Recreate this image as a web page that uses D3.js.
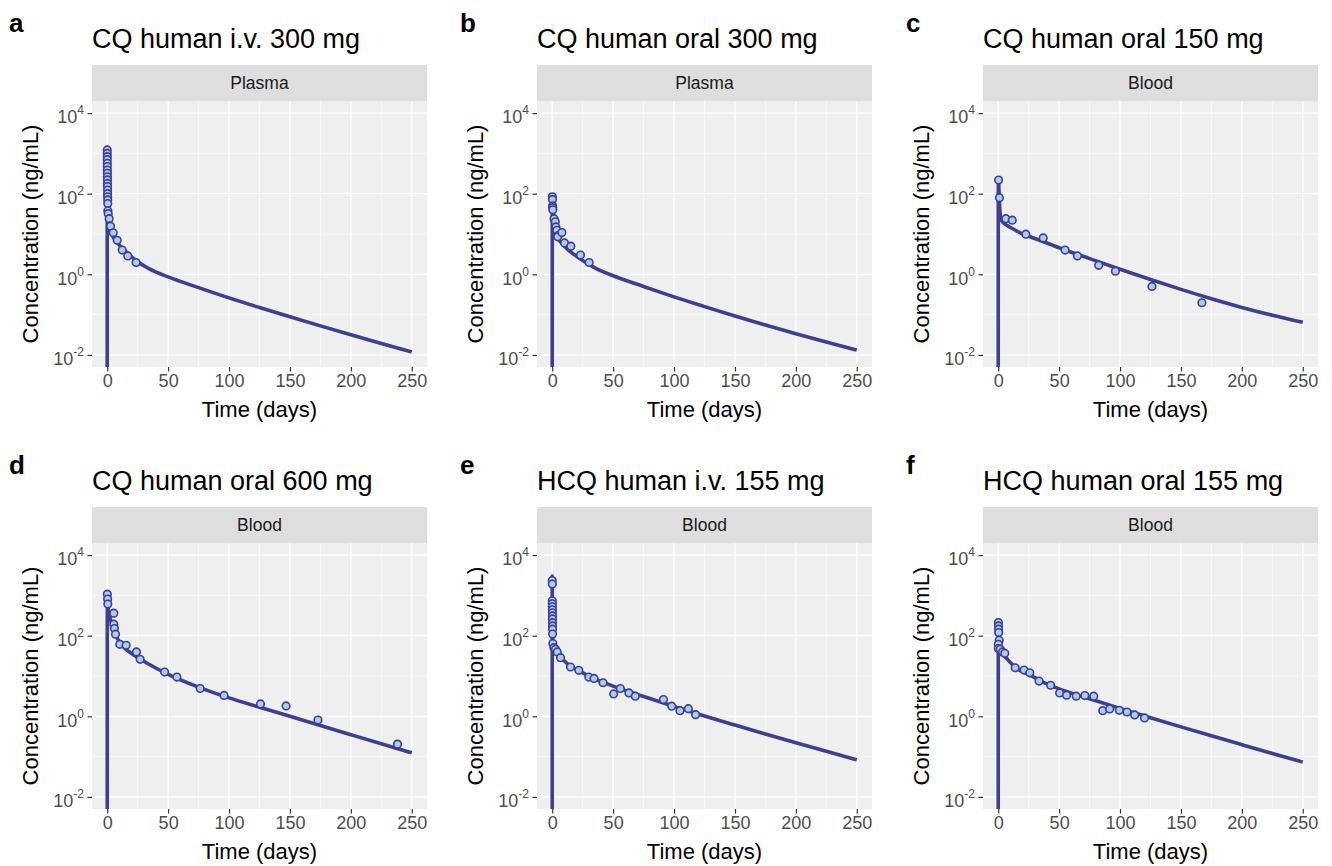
<!DOCTYPE html>
<html>
<head>
<meta charset="utf-8">
<script src="https://cdn.jsdelivr.net/npm/d3@7"></script>
<style>
  body { margin: 0; background: #fff; }
  text { font-family: "Liberation Sans", Arial, Helvetica, sans-serif; }
</style>
</head>
<body>
<svg id="chart" width="1332" height="866"></svg>
<script>
// ---- data (time in days, concentration in ng/mL) ----
var xTicks = [0, 50, 100, 150, 200, 250];
var xMinor = [25, 75, 125, 175, 225];
var yTicks = [1e-2, 1, 1e2, 1e4];
var yTickExp = ["-2", "0", "2", "4"];
var yMinor = [1e-1, 1e1, 1e3];

// a: CQ i.v. 300 mg, plasma
var lineTimeA = [0, 0.01, 0.05, 0.1, 0.2, 0.4, 0.7, 1, 2, 3, 5, 7, 10, 15, 20, 25, 35, 50, 75, 100, 125, 150, 175, 200, 225, 250];
var lineConcA = [0, 1100, 700, 400, 150, 60, 30, 16, 12, 10.5, 8.3, 6.8, 5.3, 3.7, 2.7, 2.05, 1.35, 0.86, 0.468, 0.26, 0.15, 0.088, 0.0525, 0.0316, 0.0193, 0.0119];
var obsTimeA = [0.02, 0.03, 0.04, 0.05, 0.06, 0.08, 0.1, 0.12, 0.14, 0.17, 0.2, 0.23, 0.27, 0.3, 0.35, 0.4, 0.45, 0.5, 0.8, 1.6, 2.7, 4.9, 8.2, 12.3, 16.9, 23.7];
var obsConcA = [1216, 1000, 828, 700, 567, 470, 386, 320, 263, 220, 180, 150, 123, 100, 84, 70, 57, 37.6, 32, 24, 15.6, 10.7, 7.0, 4.0, 2.86, 1.95];

// b: CQ oral 300 mg, plasma
var lineTimeB = [0, 0.05, 0.15, 0.3, 0.5, 1, 1.5, 2, 3, 5, 7, 10, 15, 20, 25, 35, 50, 75, 100, 125, 150, 175, 200, 225, 250];
var lineConcB = [0, 30, 70, 80, 55, 25, 15, 11, 9.5, 7.5, 6.3, 5.0, 3.6, 2.8, 2.2, 1.45, 0.92, 0.5, 0.275, 0.158, 0.092, 0.055, 0.0335, 0.0209, 0.0132];
var obsTimeB = [0.1, 0.2, 0.3, 0.4, 0.5, 1.5, 2.5, 3.0, 3.8, 5.2, 4.5, 7.9, 10.1, 15.3, 23.2, 30.3];
var obsConcB = [84, 72, 50, 45, 40, 24, 20, 15, 12.4, 9.3, 8.5, 10.9, 6.0, 5.0, 3.0, 1.96];

// c: CQ oral 150 mg, blood
var lineTimeC = [0, 0.05, 0.15, 0.3, 0.5, 1, 1.5, 2, 3, 5, 7, 10, 15, 20, 25, 35, 50, 75, 100, 125, 150, 175, 200, 225, 250];
var lineConcC = [0, 100, 200, 225, 150, 60, 35, 25, 21, 18, 16.5, 14.5, 12, 10, 8.8, 6.8, 4.57, 2.45, 1.33, 0.741, 0.422, 0.248, 0.151, 0.0966, 0.0646];
var obsTimeC = [0.3, 1, 6.3, 11.5, 22.7, 36.9, 54.9, 65, 82.5, 96.2, 126.2, 167.2];
var obsConcC = [218, 79, 24, 22, 9.9, 8.0, 4.0, 2.86, 1.67, 1.19, 0.5, 0.197];

// d: CQ oral 600 mg, blood
var lineTimeD = [0, 0.05, 0.15, 0.3, 1, 2, 3, 5, 7, 10, 15, 20, 25, 35, 50, 75, 100, 125, 150, 175, 200, 225, 250];
var lineConcD = [0, 250, 500, 600, 400, 300, 230, 150, 105, 70, 47, 36, 29, 19, 11, 5.3, 2.86, 1.68, 1.0, 0.59, 0.35, 0.208, 0.124];
var obsTimeD = [0.1, 0.3, 0.5, 5.4, 5.4, 5.9, 6.8, 10.3, 15.5, 24, 27, 47.1, 57.2, 76.3, 95.9, 125.8, 146.8, 173, 238.3];
var obsConcD = [1075, 812, 610, 363, 193, 151, 109, 61, 58, 39.5, 26, 12.5, 9.4, 4.9, 3.3, 2.03, 1.81, 0.81, 0.204];

// e: HCQ i.v. 155 mg, blood
var lineTimeE = [0, 0.01, 0.05, 0.1, 0.2, 0.4, 0.7, 1, 2, 3, 5, 7, 10, 15, 20, 25, 35, 50, 75, 100, 125, 150, 175, 200, 225, 250];
var lineConcE = [0, 3000, 1500, 700, 250, 100, 65, 55, 45, 40, 34, 29, 23.5, 17.5, 14.5, 12, 8.5, 5.62, 3.09, 1.76, 1.02, 0.605, 0.363, 0.22, 0.135, 0.0834];
var obsTimeE = [0.02, 0.05, 0.07, 0.09, 0.11, 0.13, 0.15, 0.17, 0.19, 0.21, 0.24, 0.27, 0.3, 0.5, 1.4, 2.7, 4.1, 6.8, 15, 21.8, 30, 34.3, 41.7, 50.4, 55.9, 63, 68.2, 91.3, 98.1, 104.9, 111.7, 117.7];
var obsConcE = [2330, 1910, 735, 620, 520, 440, 370, 310, 260, 210, 175, 145, 110, 64, 50.5, 46, 39.5, 28.5, 16.7, 13.8, 9.4, 8.7, 6.8, 3.6, 4.9, 3.8, 3.15, 2.6, 1.78, 1.38, 1.55, 1.1];

// f: HCQ oral 155 mg, blood
var lineTimeF = [0, 0.05, 0.15, 0.3, 0.6, 1, 2, 3, 5, 7, 10, 15, 20, 25, 35, 50, 75, 100, 125, 150, 175, 200, 225, 250];
var lineConcF = [0, 60, 110, 120, 80, 55, 38, 35, 31, 27, 21.5, 15.5, 12.8, 11, 7.5, 4.79, 2.72, 1.57, 0.923, 0.547, 0.328, 0.198, 0.12, 0.073];
var obsTimeF = [0.1, 0.2, 0.3, 0.4, 0.8, 0.1, 0.05, 1.6, 3.5, 5.4, 13.9, 21.2, 25.9, 33.5, 43, 50.4, 56.1, 64, 71.1, 78.4, 85.8, 91.5, 99.4, 105.7, 112, 120.1];
var obsConcF = [212, 175, 145, 120, 77, 61, 48, 46, 39.5, 36.6, 16, 14, 12, 7.5, 5.9, 3.8, 3.33, 3.15, 3.27, 3.15, 1.38, 1.52, 1.41, 1.28, 1.08, 0.91];

var panelLetters = ["a", "b", "c", "d", "e", "f"];
var panelTitles = ["CQ human i.v. 300 mg", "CQ human oral 300 mg", "CQ human oral 150 mg",
                   "CQ human oral 600 mg", "HCQ human i.v. 155 mg", "HCQ human oral 155 mg"];
var stripLabels = ["Plasma", "Plasma", "Blood", "Blood", "Blood", "Blood"];
var lineTimes = [lineTimeA, lineTimeB, lineTimeC, lineTimeD, lineTimeE, lineTimeF];
var lineConcs = [lineConcA, lineConcB, lineConcC, lineConcD, lineConcE, lineConcF];
var obsTimes = [obsTimeA, obsTimeB, obsTimeC, obsTimeD, obsTimeE, obsTimeF];
var obsConcs = [obsConcA, obsConcB, obsConcC, obsConcD, obsConcE, obsConcF];

// ---- layout ----
var colLeft = [92, 537, 983];
var letterX = [9, 460, 906];
var rowTop = [65, 507];           // top of strip
var panelW = 335, stripH = 36, panelH = 266;
var lineColor = "#3f3f8f", pointFill = "#a9cdef";

var svg = d3.select("#chart");

panelTitles.forEach(function(title, i) {
  var col = i % 3, row = Math.floor(i / 3);
  var left = colLeft[col], stripTop = rowTop[row];
  var top = stripTop + stripH, bottom = top + panelH;

  var x = d3.scaleLinear().domain([-12.5, 262.5]).range([left, left + panelW]);
  var y = d3.scaleLog().domain([Math.pow(10, -2.3), Math.pow(10, 4.3)]).range([bottom, top]);
  // zero concentration plots at the lower panel edge (like -Inf in ggplot)
  function yPos(v) { return v > 0 ? y(v) : bottom; }

  var g = svg.append("g");

  // letter + title
  g.append("text").attr("x", letterX[col]).attr("y", stripTop - 33)
    .attr("font-size", 26).attr("font-weight", "bold").attr("fill", "#000")
    .text(panelLetters[i]);
  g.append("text").attr("x", left).attr("y", stripTop - 17)
    .attr("font-size", 27).attr("fill", "#000").text(title);

  // strip
  g.append("rect").attr("x", left).attr("y", stripTop).attr("width", panelW).attr("height", stripH)
    .attr("fill", "#dedede");
  g.append("text").attr("x", left + panelW / 2).attr("y", stripTop + stripH / 2 + 6.3)
    .attr("text-anchor", "middle").attr("font-size", 17.5).attr("fill", "#1a1a1a")
    .text(stripLabels[i]);

  // panel background + grid
  g.append("rect").attr("x", left).attr("y", top).attr("width", panelW).attr("height", panelH)
    .attr("fill", "#efefef");
  g.selectAll(".xminor").data(xMinor).enter().append("line")
    .attr("x1", d => x(d)).attr("x2", d => x(d)).attr("y1", top).attr("y2", bottom)
    .attr("stroke", "#fff").attr("stroke-width", 0.6);
  g.selectAll(".yminor").data(yMinor).enter().append("line")
    .attr("x1", left).attr("x2", left + panelW).attr("y1", d => y(d)).attr("y2", d => y(d))
    .attr("stroke", "#fff").attr("stroke-width", 0.6);
  g.selectAll(".xmajor").data(xTicks).enter().append("line")
    .attr("x1", d => x(d)).attr("x2", d => x(d)).attr("y1", top).attr("y2", bottom)
    .attr("stroke", "#fff").attr("stroke-width", 1.3);
  g.selectAll(".ymajor").data(yTicks).enter().append("line")
    .attr("x1", left).attr("x2", left + panelW).attr("y1", d => y(d)).attr("y2", d => y(d))
    .attr("stroke", "#fff").attr("stroke-width", 1.3);

  // clip
  var clipId = "clip" + i;
  svg.append("clipPath").attr("id", clipId).append("rect")
    .attr("x", left).attr("y", top).attr("width", panelW).attr("height", panelH);
  var plot = g.append("g").attr("clip-path", "url(#" + clipId + ")");

  // model line
  var pts = lineTimes[i].map(function(t, k) { return [t, lineConcs[i][k]]; });
  var line = d3.line().x(d => x(d[0])).y(d => yPos(d[1])).curve(d3.curveMonotoneX);
  plot.append("path").datum(pts).attr("d", line)
    .attr("fill", "none").attr("stroke", lineColor).attr("stroke-width", 3.6)
    .attr("stroke-linejoin", "round");

  // observations
  var obs = obsTimes[i].map(function(t, k) { return [t, obsConcs[i][k]]; });
  plot.selectAll("circle").data(obs).enter().append("circle")
    .attr("cx", d => x(d[0])).attr("cy", d => yPos(d[1])).attr("r", 3.8)
    .attr("fill", pointFill).attr("stroke", lineColor).attr("stroke-width", 1.6);

  // axes
  var xAxis = g.append("g").attr("transform", "translate(0," + bottom + ")")
    .call(d3.axisBottom(x).tickValues(xTicks).tickSize(4.5).tickPadding(3));
  xAxis.select(".domain").remove();
  xAxis.selectAll(".tick line").attr("stroke", "#333").attr("stroke-width", 1.2);
  xAxis.selectAll(".tick text").attr("font-size", 18).attr("fill", "#4d4d4d")
    .attr("font-family", null);

  var yAxis = g.append("g").attr("transform", "translate(" + left + ",0)")
    .call(d3.axisLeft(y).tickValues(yTicks).tickSize(4.5).tickPadding(3).tickFormat(""));
  yAxis.select(".domain").remove();
  yAxis.selectAll(".tick line").attr("stroke", "#333").attr("stroke-width", 1.2);
  yAxis.selectAll(".tick text").each(function(d, k) {
    var t = d3.select(this).attr("font-size", 18).attr("fill", "#4d4d4d").attr("font-family", null)
      .attr("dy", "0.55em").attr("x", -8);
    t.append("tspan").text("10");
    t.append("tspan").attr("font-size", 12).attr("dy", "-0.75em").text(yTickExp[k]);
  });

  // axis titles
  g.append("text").attr("x", left + panelW / 2).attr("y", bottom + 50)
    .attr("text-anchor", "middle").attr("font-size", 22).attr("fill", "#000")
    .text("Time (days)");
  g.append("text")
    .attr("transform", "translate(" + (left - 54) + "," + (top + panelH / 2) + ") rotate(-90)")
    .attr("text-anchor", "middle").attr("font-size", 22).attr("fill", "#000")
    .text("Concentration (ng/mL)");
});
</script>
</body>
</html>
